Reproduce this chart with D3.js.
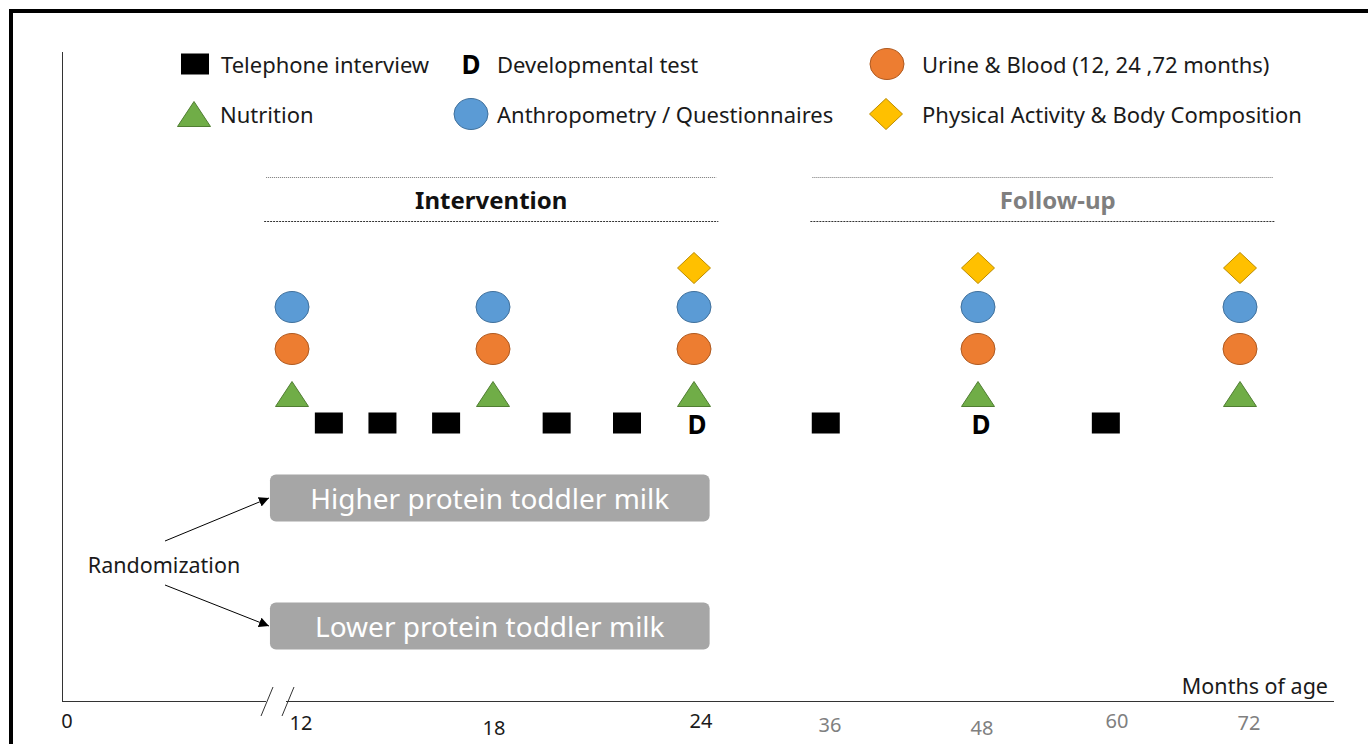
<!DOCTYPE html>
<html><head><meta charset="utf-8">
<script src="https://cdn.jsdelivr.net/npm/d3@7"></script>
<style>
body{margin:0;background:#fff}
svg{display:block}
text{font-family:"Noto Sans","Open Sans",sans-serif}
</style>
</head><body>
<svg id="c" width="1368" height="744"></svg>
<script>
// ---------- data ----------
const tickValues = [0, 12, 18, 24, 36, 48, 60, 72];
const tickLabels = ["0", "12", "18", "24", "36", "48", "60", "72"];
const telephoneMonths = [13.1, 14.7, 16.6, 19.9, 22.0, 35.8, 59.8];
const devTestMonths = [24, 48];
const nutritionMonths = [12, 18, 24, 48, 72];
const urineBloodMonths = [12, 18, 24, 48, 72];
const anthropometryMonths = [12, 18, 24, 48, 72];
const activityMonths = [24, 48, 72];
const phaseNames = ["Intervention", "Follow-up"];
const phaseStart = [10.65, 34.6];
const phaseEnd = [26.0, 75.0];
const armNames = ["Higher protein toddler milk", "Lower protein toddler milk"];
const armStart = [10.85, 10.85];
const armEnd = [25.4, 25.4];
const legendLabels = ["Telephone interview", "Developmental test", "Urine & Blood (12, 24 ,72 months)",
                      "Nutrition", "Anthropometry / Questionnaires", "Physical Activity & Body Composition"];

// ---------- layout ----------
const svg = d3.select("#c");
svg.append("rect").attr("width", 1368).attr("height", 744).attr("fill", "#fff");

const x = d3.scaleLinear()
  .domain([0, 12, 24, 36, 48, 60, 72])
  .range([62, 292, 694, 828, 978, 1108, 1240]);

const rowY = d3.scaleOrdinal()
  .domain(["activity", "anthro", "urine", "nutrition", "phone"])
  .range([268, 307, 349, 394, 423]);

const C = {
  blue: "#5B9BD5", blueS: "#41719C",
  orange: "#ED7D31", orangeS: "#AE5A21",
  green: "#70AD47", greenS: "#507E32",
  yellow: "#FFC000", yellowS: "#BC8C00",
  text: "#1a1a1a", gray: "#808080", box: "#a6a6a6"
};

// border
svg.append("rect").attr("x", 9).attr("y", 9).attr("width", 1359).attr("height", 4).attr("fill", "#000");
svg.append("rect").attr("x", 9).attr("y", 9).attr("width", 4).attr("height", 735).attr("fill", "#000");

// symbol helpers
function ellipse(g, cx, cy, fill, stroke) {
  g.append("ellipse").attr("cx", cx).attr("cy", cy).attr("rx", 17).attr("ry", 15.5)
    .attr("fill", fill).attr("stroke", stroke).attr("stroke-width", 1);
}
function diamond(g, cx, cy) {
  g.append("path").attr("d", `M${cx},${cy-15.5}L${cx+16.5},${cy}L${cx},${cy+15.5}L${cx-16.5},${cy}Z`)
    .attr("fill", C.yellow).attr("stroke", C.yellowS).attr("stroke-width", 1);
}
function triangle(g, cx, cy) {
  g.append("path").attr("d", `M${cx},${cy-12.5}L${cx+16.5},${cy+12.5}L${cx-16.5},${cy+12.5}Z`)
    .attr("fill", C.green).attr("stroke", C.greenS).attr("stroke-width", 1);
}
function square(g, cx, cy) {
  g.append("rect").attr("x", cx - 14).attr("y", cy - 10.5).attr("width", 28).attr("height", 21).attr("fill", "#000");
}
function dLetter(g, cx, cy) {
  g.append("text").attr("x", cx).attr("y", cy).attr("text-anchor", "middle").attr("dominant-baseline", "central")
    .attr("font-size", 26).attr("font-weight", 700).attr("fill", "#000").text("D");
}

// ---------- legend ----------
const lg = svg.append("g");
const legendSym = [
  (cx, cy) => square(lg, cx, cy),
  (cx, cy) => dLetter(lg, cx, cy),
  (cx, cy) => ellipse(lg, cx, cy, C.orange, C.orangeS),
  (cx, cy) => triangle(lg, cx, cy),
  (cx, cy) => ellipse(lg, cx, cy, C.blue, C.blueS),
  (cx, cy) => diamond(lg, cx, cy)
];
const legSymX = [195, 471, 887, 194, 471, 886];
const legTxtX = [221, 497, 922, 220, 497, 922];
const legY = [64, 64, 64, 114, 114, 114];
legendLabels.forEach((t, i) => {
  legendSym[i](legSymX[i], legY[i]);
  lg.append("text").attr("x", legTxtX[i]).attr("y", legY[i]).attr("dominant-baseline", "central")
    .attr("font-size", 22).attr("fill", C.text).text(t);
});

// ---------- phase headers ----------
const phaseDx = [0, 15];
phaseNames.forEach((p, i) => {
  const x0 = x(phaseStart[i]), x1 = x(phaseEnd[i]);
  svg.append("line").attr("x1", x0).attr("x2", x1).attr("y1", 177.5).attr("y2", 177.5)
    .attr("stroke", "#777").attr("stroke-width", 1).attr("stroke-dasharray", "1,1");
  svg.append("line").attr("x1", x0 - 2).attr("x2", x1 + 2).attr("y1", 221.5).attr("y2", 221.5)
    .attr("stroke", "#333").attr("stroke-width", 1).attr("stroke-dasharray", "2,1");
  svg.append("text").attr("x", (x0 + x1) / 2 + phaseDx[i]).attr("y", 199).attr("text-anchor", "middle")
    .attr("dominant-baseline", "central").attr("font-size", 24).attr("font-weight", 700)
    .attr("fill", i === 0 ? "#111" : "#7f7f7f").text(p);
});

// ---------- event markers ----------
const mg = svg.append("g");
activityMonths.forEach(m => diamond(mg, x(m), rowY("activity")));
anthropometryMonths.forEach(m => ellipse(mg, x(m), rowY("anthro"), C.blue, C.blueS));
urineBloodMonths.forEach(m => ellipse(mg, x(m), rowY("urine"), C.orange, C.orangeS));
nutritionMonths.forEach(m => triangle(mg, x(m), rowY("nutrition")));
telephoneMonths.forEach(m => square(mg, x(m), rowY("phone")));
devTestMonths.forEach(m => dLetter(mg, x(m) + 3, rowY("phone") + 1));

// ---------- arms ----------
const armY = [498, 626];
armNames.forEach((a, i) => {
  const x0 = x(armStart[i]), x1 = x(armEnd[i]);
  svg.append("rect").attr("x", x0).attr("y", armY[i] - 23.5).attr("width", x1 - x0).attr("height", 47)
    .attr("rx", 6).attr("fill", C.box);
  svg.append("text").attr("x", (x0 + x1) / 2).attr("y", armY[i]).attr("text-anchor", "middle")
    .attr("dominant-baseline", "central").attr("font-size", 28).attr("fill", "#fff").text(a);
});

// randomization
svg.append("defs").append("marker").attr("id", "ah").attr("viewBox", "0 0 10 10")
  .attr("refX", 10).attr("refY", 5).attr("markerWidth", 10).attr("markerHeight", 10)
  .attr("markerUnits", "userSpaceOnUse").attr("orient", "auto")
  .append("path").attr("d", "M0,0L10,5L0,10Z").attr("fill", "#000");
svg.append("text").attr("x", 164).attr("y", 564).attr("text-anchor", "middle").attr("dominant-baseline", "central")
  .attr("font-size", 21.5).attr("fill", C.text).text("Randomization");
[[541, 0], [585, 1]].forEach(([y0, i]) => {
  svg.append("line").attr("x1", 165).attr("y1", y0).attr("x2", x(armStart[i]) - 1).attr("y2", armY[i])
    .attr("stroke", "#000").attr("stroke-width", 1).attr("marker-end", "url(#ah)");
});

// ---------- axes ----------
const axisY = 701.5;
svg.append("line").attr("x1", 62.5).attr("x2", 62.5).attr("y1", 52).attr("y2", axisY).attr("stroke", "#333");
svg.append("line").attr("x1", 62).attr("x2", x(12) - 26).attr("y1", axisY).attr("y2", axisY).attr("stroke", "#333");
svg.append("line").attr("x1", x(12) - 6).attr("x2", 1334).attr("y1", axisY).attr("y2", axisY).attr("stroke", "#333");
[x(12) - 25, x(12) - 4].forEach(cx => {
  svg.append("line").attr("x1", cx - 6).attr("y1", 716).attr("x2", cx + 6).attr("y2", 687)
    .attr("stroke", "#333").attr("stroke-width", 1);
});
const tickDx = [5, 9, 1, 7, 2, 4, 9, 9];
const tickDy = [720, 722, 727, 720, 724, 727, 720, 722];
tickValues.forEach((v, i) => {
  svg.append("text").attr("x", x(v) + tickDx[i]).attr("y", tickDy[i]).attr("text-anchor", "middle")
    .attr("dominant-baseline", "central").attr("font-size", 20)
    .attr("fill", v > 24 ? C.gray : C.text).text(tickLabels[i]);
});
svg.append("text").attr("x", 1328).attr("y", 685).attr("text-anchor", "end").attr("dominant-baseline", "central")
  .attr("font-size", 21.5).attr("fill", C.text).text("Months of age");
</script>
</body></html>
